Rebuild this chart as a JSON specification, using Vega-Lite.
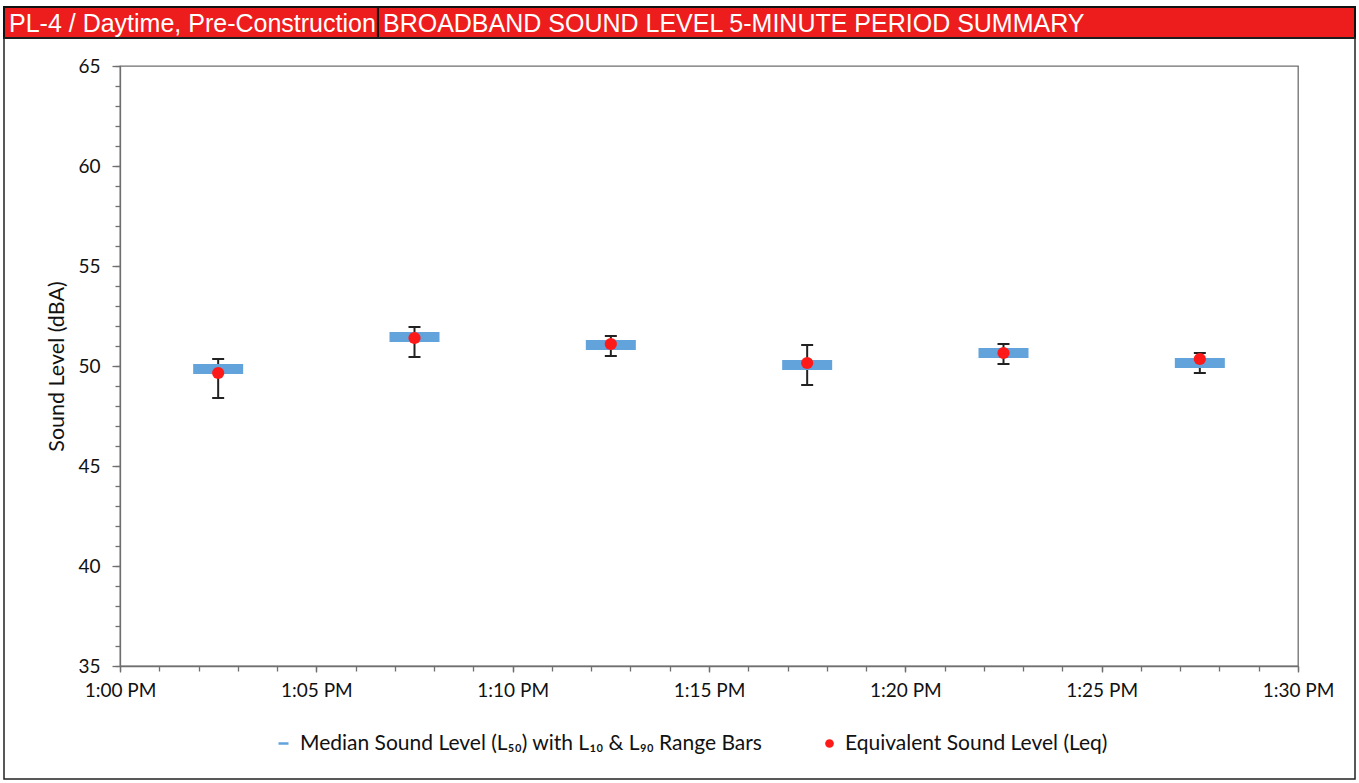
{
  "$schema": "https://vega.github.io/schema/vega-lite/v6.json",
  "padding": {"left": 3, "top": 6, "right": 2, "bottom": 1},
  "background": "white",
  "width": 1178,
  "height": 600,
  "view": {"stroke": "#6f6f6f", "strokeWidth": 1.3},
  "config": {"font": "Lato"},
  "datasets": {
    "header": [
      {"label": "PL-4 / Daytime, Pre-Construction", "start": 0, "end": 0.2768},
      {"label": "BROADBAND SOUND LEVEL 5-MINUTE PERIOD SUMMARY", "start": 0.2768, "end": 1}
    ],
    "levels": [
      {"minute": 2.5, "l10": 50.35, "l50": 49.85, "l90": 48.4, "leq": 49.65},
      {"minute": 7.5, "l10": 51.95, "l50": 51.45, "l90": 50.45, "leq": 51.4},
      {"minute": 12.5, "l10": 51.5, "l50": 51.05, "l90": 50.5, "leq": 51.1},
      {"minute": 17.5, "l10": 51.05, "l50": 50.05, "l90": 49.05, "leq": 50.15},
      {"minute": 22.5, "l10": 51.1, "l50": 50.65, "l90": 50.1, "leq": 50.65},
      {"minute": 27.5, "l10": 50.65, "l50": 50.15, "l90": 49.65, "leq": 50.35}
    ]
  },
  "resolve": {"scale": {"x": "independent", "y": "independent"}, "axis": {"x": "independent", "y": "independent"}},
  "layer": [
    {
      "data": {"name": "levels"},
      "resolve": {"axis": {"x": "independent", "y": "independent"}},
      "layer": [
        {
          "mark": {"type": "point", "opacity": 0},
          "encoding": {
            "x": {
              "field": "minute", "type": "quantitative",
              "scale": {"domain": [0, 30], "nice": false, "zero": false},
              "axis": {"orient": "bottom", "values": [0,1,2,3,4,5,6,7,8,9,10,11,12,13,14,15,16,17,18,19,20,21,22,23,24,25,26,27,28,29,30], "labels": false, "domain": false, "grid": false, "title": null, "tickSize": 5, "tickColor": "#6f6f6f", "tickWidth": 1.3}
            },
            "y": {
              "field": "leq", "type": "quantitative",
              "scale": {"domain": [35, 65], "nice": false, "zero": false},
              "axis": {"orient": "left", "values": [35,36,37,38,39,40,41,42,43,44,45,46,47,48,49,50,51,52,53,54,55,56,57,58,59,60,61,62,63,64,65], "labels": false, "domain": false, "grid": false, "title": null, "tickSize": 5, "tickColor": "#6f6f6f", "tickWidth": 1.3}
            }
          }
        },
        {
          "mark": {"type": "rule", "color": "#222222", "strokeWidth": 2},
          "encoding": {
            "x": {
              "field": "minute", "type": "quantitative",
              "axis": {"orient": "bottom", "values": [0, 5, 10, 15, 20, 25, 30], "labelExpr": "'1:' + (datum.value < 10 ? '0' : '') + datum.value + ' PM'", "labelFont": "Lato", "labelFontSize": 19, "labelColor": "#111111", "labelPadding": 9, "labelFlush": false, "labelOverlap": false, "labelBound": false, "tickSize": 6, "tickColor": "#6f6f6f", "tickWidth": 1.3, "domainColor": "#6f6f6f", "domainWidth": 1.3, "grid": false, "title": null}
            },
            "y": {
              "field": "l90", "type": "quantitative",
              "axis": {"orient": "left", "values": [35, 40, 45, 50, 55, 60, 65], "labelFont": "Lato", "labelFontSize": 19, "labelColor": "#111111", "labelPadding": 12, "tickSize": 8, "tickColor": "#6f6f6f", "tickWidth": 1.3, "domainColor": "#6f6f6f", "domainWidth": 1.3, "grid": false, "title": "Sound Level (dBA)", "titleFont": "Lato", "titleFontSize": 21.5, "titleFontWeight": "normal", "titleColor": "#111111", "titlePadding": 9}
            },
            "y2": {"field": "l10"}
          }
        },
        {
          "mark": {"type": "tick", "orient": "horizontal", "size": 12, "thickness": 2, "color": "#222222", "opacity": 1},
          "encoding": {
            "x": {"field": "minute", "type": "quantitative", "axis": null},
            "y": {"field": "l10", "type": "quantitative", "axis": null}
          }
        },
        {
          "mark": {"type": "tick", "orient": "horizontal", "size": 12, "thickness": 2, "color": "#222222", "opacity": 1},
          "encoding": {
            "x": {"field": "minute", "type": "quantitative", "axis": null},
            "y": {"field": "l90", "type": "quantitative", "axis": null}
          }
        },
        {
          "mark": {"type": "tick", "orient": "horizontal", "size": 50, "thickness": 10, "opacity": 1},
          "encoding": {
            "x": {"field": "minute", "type": "quantitative", "axis": null},
            "y": {"field": "l50", "type": "quantitative", "axis": null},
            "color": {
              "datum": "Median Sound Level (L₅₀) with L₁₀ & L₉₀ Range Bars",
              "scale": {"range": ["#62a3dc"]},
              "legend": {
                "orient": "none", "legendX": 153, "legendY": 667, "title": null,
                "labelFont": "Lato", "labelFontSize": 21, "labelColor": "#111111", "labelLimit": 800,
                "labelOffset": 6, "symbolSize": 100, "symbolType": "M-1,-0.25H1V0.25H-1Z", "padding": 0
              }
            }
          }
        },
        {
          "mark": {"type": "point", "filled": true, "size": 150, "opacity": 1},
          "encoding": {
            "x": {"field": "minute", "type": "quantitative", "axis": null},
            "y": {"field": "leq", "type": "quantitative", "axis": null},
            "fill": {
              "datum": "Equivalent Sound Level (Leq)",
              "scale": {"range": ["#ff1a1a"]},
              "legend": {
                "orient": "none", "legendX": 699, "legendY": 667, "title": null,
                "labelFont": "Lato", "labelFontSize": 21, "labelColor": "#111111", "labelLimit": 800,
                "labelOffset": 5, "symbolSize": 75, "symbolType": "circle", "padding": 0
              }
            }
          }
        }
      ]
    },
    {
      "data": {"name": "header"},
      "layer": [
        {
          "mark": {"type": "rect", "fill": "#ee1d1d", "stroke": "#111111", "strokeWidth": 2},
          "encoding": {
            "x": {"field": "start", "type": "quantitative", "scale": {"domain": [0, 1], "range": [-116, 1235]}, "axis": null},
            "x2": {"field": "end"},
            "y": {"datum": 0, "type": "quantitative", "scale": {"domain": [0, 1], "range": [-28, -59]}, "axis": null},
            "y2": {"datum": 1}
          }
        },
        {
          "mark": {"type": "text", "align": "left", "baseline": "middle", "dx": 5, "dy": 1, "color": "white", "font": "Liberation Sans", "fontSize": 25},
          "encoding": {
            "x": {"field": "start", "type": "quantitative"},
            "y": {"datum": 0.5, "type": "quantitative"},
            "text": {"field": "label"}
          }
        }
      ]
    },
    {
      "data": {"values": [{"part": "frame"}]},
      "mark": {"type": "rect", "fill": null, "stroke": "#222222", "strokeWidth": 1.5},
      "encoding": {
        "x": {"datum": 0, "type": "quantitative", "scale": {"domain": [0, 1], "range": [-116, 1235]}, "axis": null},
        "x2": {"datum": 1},
        "y": {"datum": 0, "type": "quantitative", "scale": {"domain": [0, 1], "range": [713, -28]}, "axis": null},
        "y2": {"datum": 1}
      }
    }
  ]
}
